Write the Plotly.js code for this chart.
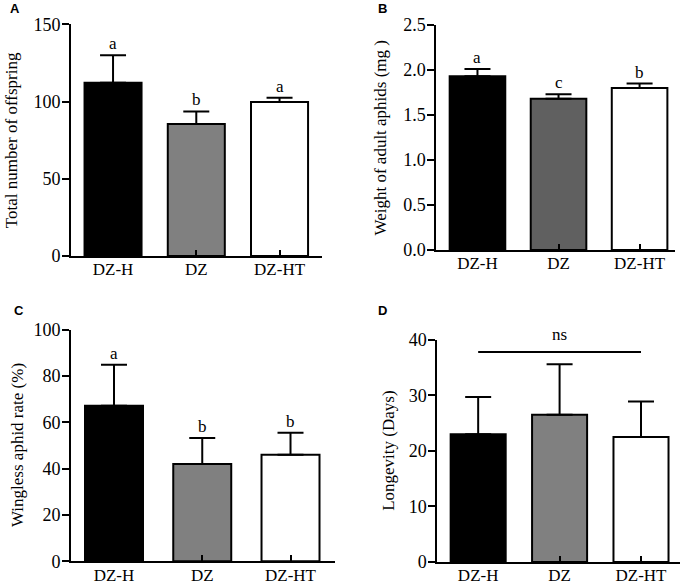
<!DOCTYPE html>
<html>
<head>
<meta charset="utf-8">
<script src="https://cdn.plot.ly/plotly-3.0.1.min.js"></script>
<style>html,body{margin:0;padding:0;background:#fff;}#chart{width:686px;height:584px;}</style>
</head>
<body>
<div id="chart"></div>
<script>
// ---- data ----
var categories = ['DZ-H', 'DZ', 'DZ-HT'];

var offspringMean = [112.2, 85.4, 99.7];
var offspringSE   = [17.8, 8.2, 2.8];
var offspringLetters = ['a', 'b', 'a'];
var offspringTicks = [0, 50, 100, 150];

var weightMean = [1.93, 1.68, 1.80];
var weightSE   = [0.08, 0.05, 0.05];
var weightLetters = ['a', 'c', 'b'];
var weightTicks = [0, 0.5, 1.0, 1.5, 2.0, 2.5];

var winglessMean = [67.2, 42.0, 46.0];
var winglessSE   = [17.7, 11.2, 9.5];
var winglessLetters = ['a', 'b', 'b'];
var winglessTicks = [0, 20, 40, 60, 80, 100];

var longevityMean = [23.0, 26.5, 22.5];
var longevitySE   = [6.7, 9.1, 6.4];
var longevityTicks = [0, 10, 20, 30, 40];
var longevityNsLevel = 37.8;
var longevityNsText = 'ns';

// ---- styling ----
var SERIF = 'Liberation Serif';
var SANS = 'Liberation Sans';
var W = 686, H = 584;

var panels = [
  {xa:'x',  ya:'y',  mean:offspringMean, se:offspringSE, letters:offspringLetters,
   colors:['#000000','#808080','#ffffff'], ticks:offspringTicks, fmt:'',
   title:'Total number of offspring', label:'A',
   px:[71,322], py:[256,24.3], xr:[-0.505,2.51], bw:0.685, titleX:11, labX:8, labY:15},
  {xa:'x2', ya:'y2', mean:weightMean, se:weightSE, letters:weightLetters,
   colors:['#000000','#606060','#ffffff'], ticks:weightTicks, fmt:'.1f',
   title:'Weight of adult aphids (mg )', label:'B',
   px:[436.3,675], py:[250,25], xr:[-0.508,2.437], bw:0.686, titleX:380, labX:376, labY:15},
  {xa:'x3', ya:'y3', mean:winglessMean, se:winglessSE, letters:winglessLetters,
   colors:['#000000','#808080','#ffffff'], ticks:winglessTicks, fmt:'',
   title:'Wingless aphid rate (%)', label:'C',
   px:[71,335], py:[561.3,329.7], xr:[-0.487,2.504], bw:0.657, titleX:17.5, labX:12, labY:317},
  {xa:'x4', ya:'y4', mean:longevityMean, se:longevitySE, letters:null,
   colors:['#000000','#808080','#ffffff'], ticks:longevityTicks, fmt:'',
   title:'Longevity (Days)', label:'D',
   px:[437.3,680], py:[562,339.7], xr:[-0.502,2.479], bw:0.676, titleX:389, labX:376, labY:317}
];

var data = [];
var layout = {
  width: W, height: H,
  margin: {l:0, r:0, t:0, b:0},
  paper_bgcolor: '#ffffff', plot_bgcolor: 'rgba(0,0,0,0)',
  showlegend: false,
  font: {family: SERIF, size: 17, color: '#000'},
  annotations: [], shapes: []
};

panels.forEach(function(p, i) {
  var yTop = p.ticks[p.ticks.length - 1];
  data.push({
    type: 'bar', x: categories, y: p.mean,
    xaxis: p.xa, yaxis: p.ya,
    width: p.bw,
    marker: {color: p.colors, line: {color: '#000', width: 2}},
    error_y: {type: 'data', symmetric: false, array: p.se,
              arrayminus: p.se.map(function(){return 0;}),
              color: '#000', thickness: 2, width: 13},
    hoverinfo: 'none'
  });
  var xk = 'xaxis' + (i === 0 ? '' : (i + 1));
  var yk = 'yaxis' + (i === 0 ? '' : (i + 1));
  layout[xk] = {
    domain: [p.px[0] / W, p.px[1] / W],
    anchor: p.ya, range: p.xr, type: 'category',
    showline: true, linewidth: 2, linecolor: '#000',
    ticks: 'inside', ticklen: 6, tickwidth: 2, tickcolor: '#000',
    ticklabelstandoff: -3,
    showgrid: false, zeroline: false, fixedrange: true,
    tickfont: {family: SERIF, size: 17, color: '#000'}
  };
  layout[yk] = {
    domain: [1 - p.py[0] / H, 1 - p.py[1] / H],
    anchor: p.xa, range: [0, yTop],
    tickvals: p.ticks, tickformat: p.fmt,
    showline: true, linewidth: 2, linecolor: '#000',
    ticks: 'outside', ticklen: 7, tickwidth: 2, tickcolor: '#000',
    ticklabelstandoff: -2,
    showgrid: false, zeroline: false, fixedrange: true,
    tickfont: {family: SERIF, size: 18, color: '#000'}
  };
  layout.annotations.push({
    text: p.title, xref: 'paper', yref: p.ya + ' domain',
    x: p.titleX / W, y: 0.5, xanchor: 'center', yanchor: 'middle',
    textangle: -90, showarrow: false,
    font: {family: SERIF, size: 17, color: '#000'}
  });
  layout.annotations.push({
    text: '<b>' + p.label + '</b>', xref: 'paper', yref: 'paper',
    x: p.labX / W, y: 1 - p.labY / H, xanchor: 'left', yanchor: 'bottom',
    yshift: -3, showarrow: false,
    font: {family: SANS, size: 13, color: '#000'}
  });
  if (p.letters) {
    p.letters.forEach(function(l, j) {
      layout.annotations.push({
        text: l, xref: p.xa, yref: p.ya,
        x: categories[j], y: p.mean[j] + p.se[j],
        xanchor: 'center', yanchor: 'bottom', showarrow: false, yshift: 0,
        font: {family: SERIF, size: 17, color: '#000'}
      });
    });
  }
});

layout.shapes.push({
  type: 'line', xref: 'x4', yref: 'y4',
  x0: 0, x1: categories.length - 1,
  y0: longevityNsLevel, y1: longevityNsLevel,
  line: {color: '#000', width: 2}
});
layout.annotations.push({
  text: longevityNsText, xref: 'x4', yref: 'y4',
  x: categories[1], y: longevityNsLevel,
  xanchor: 'center', yanchor: 'bottom', yshift: 6, showarrow: false,
  font: {family: SERIF, size: 17, color: '#000'}
});

Plotly.newPlot('chart', data, layout, {displayModeBar: false, staticPlot: true});
</script>
</body>
</html>
